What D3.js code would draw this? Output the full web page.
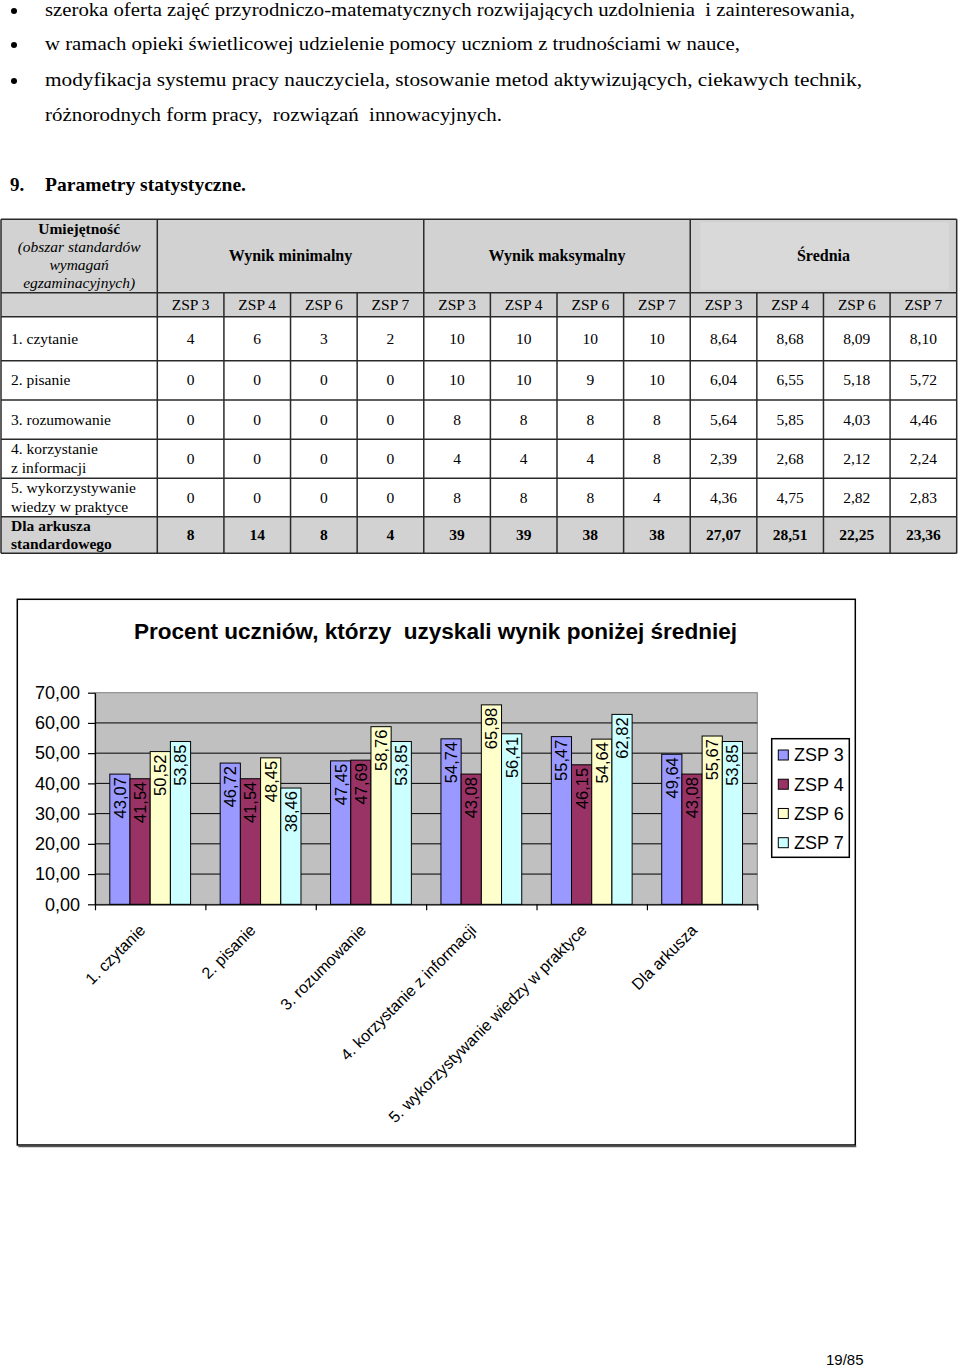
<!DOCTYPE html>
<html>
<head>
<meta charset="utf-8">
<script src="https://cdn.jsdelivr.net/npm/d3@7"></script>
<style>
  html, body { margin: 0; padding: 0; background: #fff; }
  svg { display: block; }
  text { white-space: pre; }
</style>
</head>
<body>
<script>
// ---------------- DATA ----------------
const bulletLines = [
  "szeroka oferta zajęć przyrodniczo-matematycznych rozwijających uzdolnienia  i zainteresowania,",
  "w ramach opieki świetlicowej udzielenie pomocy uczniom z trudnościami w nauce,",
  "modyfikacja systemu pracy nauczyciela, stosowanie metod aktywizujących, ciekawych technik,"
];
const continuationLine = "różnorodnych form pracy,  rozwiązań  innowacyjnych.";
const sectionNumber = "9.";
const sectionTitle = "Parametry statystyczne.";

const headerFirstCell = ["Umiejętność", "(obszar standardów", "wymagań", "egzaminacyjnych)"];
const tableGroups = ["Wynik minimalny", "Wynik maksymalny", "Średnia"];
const schools = ["ZSP 3", "ZSP 4", "ZSP 6", "ZSP 7"];
const rowLabels = [
  ["1. czytanie"],
  ["2. pisanie"],
  ["3. rozumowanie"],
  ["4. korzystanie", "z informacji"],
  ["5. wykorzystywanie", "wiedzy w praktyce"],
  ["Dla arkusza", "standardowego"]
];
const minScores = [[4,6,3,2],[0,0,0,0],[0,0,0,0],[0,0,0,0],[0,0,0,0],[8,14,8,4]];
const maxScores = [[10,10,10,10],[10,10,9,10],[8,8,8,8],[4,4,4,8],[8,8,8,4],[39,39,38,38]];
const meanScores = [[8.64,8.68,8.09,8.10],[6.04,6.55,5.18,5.72],[5.64,5.85,4.03,4.46],
                    [2.39,2.68,2.12,2.24],[4.36,4.75,2.82,2.83],[27.07,28.51,22.25,23.36]];

const chartTitle = "Procent uczniów, którzy  uzyskali wynik poniżej średniej";
const categories = ["1. czytanie", "2. pisanie", "3. rozumowanie", "4. korzystanie z informacji",
                    "5. wykorzystywanie wiedzy w praktyce", "Dla arkusza"];
const seriesNames = ["ZSP 3", "ZSP 4", "ZSP 6", "ZSP 7"];
const zsp3 = [43.07, 46.72, 47.45, 54.74, 55.47, 49.64];
const zsp4 = [41.54, 41.54, 47.69, 43.08, 46.15, 43.08];
const zsp6 = [50.52, 48.45, 58.76, 65.98, 54.64, 55.67];
const zsp7 = [53.85, 38.46, 53.85, 56.41, 62.82, 53.85];
const yTicks = [0, 10, 20, 30, 40, 50, 60, 70];
const pageNumber = "19/85";

// ---------------- SETUP ----------------
const W = 960, H = 1368;
const svg = d3.select("body").append("svg").attr("width", W).attr("height", H);
svg.append("rect").attr("width", W).attr("height", H).attr("fill", "#fff");

const serif = "'Liberation Serif', 'Times New Roman', serif";
const sans = "'Liberation Sans', Arial, sans-serif";
const comma = v => d3.format(".2f")(v).replace(".", ",");

// ---------------- TOP TEXT ----------------
const bulletY = [16, 50, 86];
const bulletWidths = [810, 695, 817];
bulletLines.forEach((t, i) => {
  svg.append("circle").attr("cx", 14).attr("cy", bulletY[i] - 5).attr("r", 3).attr("fill", "#000");
  svg.append("text").attr("x", 45).attr("y", bulletY[i])
    .attr("font-family", serif).attr("font-size", 18.5)
    .attr("textLength", bulletWidths[i]).attr("lengthAdjust", "spacingAndGlyphs")
    .text(t);
});
svg.append("text").attr("x", 45).attr("y", 121)
  .attr("font-family", serif).attr("font-size", 18.5)
  .attr("textLength", 457).attr("lengthAdjust", "spacingAndGlyphs")
  .text(continuationLine);
svg.append("text").attr("x", 10).attr("y", 191)
  .attr("font-family", serif).attr("font-size", 19).attr("font-weight", "bold").text(sectionNumber);
svg.append("text").attr("x", 45).attr("y", 191)
  .attr("font-family", serif).attr("font-size", 19).attr("font-weight", "bold")
  .attr("textLength", 201).attr("lengthAdjust", "spacingAndGlyphs").text(sectionTitle);

// ---------------- TABLE ----------------
const rowY = [219.3, 292.7, 316.7, 360.7, 400, 439.3, 478.3, 516.7, 553.3];
const tLeft = 1, tFirst = 157.3, tRight = 956.7;
const colX = d3.scaleBand().domain(d3.range(12)).range([tFirst, tRight]);
const gray = "#d2d2d2";
const border = "#2a2a2a";
const tg = svg.append("g");

// fills
tg.append("rect").attr("x", tLeft).attr("y", rowY[0]).attr("width", tRight - tLeft)
  .attr("height", rowY[2] - rowY[0]).attr("fill", gray);
tg.append("rect").attr("x", tLeft).attr("y", rowY[7]).attr("width", tRight - tLeft)
  .attr("height", rowY[8] - rowY[7]).attr("fill", gray);
// subtle inner panel in the "Średnia" header cell
tg.append("rect").attr("x", colX(8) + 10).attr("y", rowY[0] + 3)
  .attr("width", colX.bandwidth() * 4 - 18).attr("height", rowY[1] - rowY[0] - 6)
  .attr("fill", "#d9d9d9");

// horizontal lines
rowY.forEach(y => {
  tg.append("line").attr("x1", tLeft).attr("x2", tRight).attr("y1", y).attr("y2", y)
    .attr("stroke", border).attr("stroke-width", 1.5);
});
// vertical lines
[tLeft, tFirst, tRight].forEach(x => {
  tg.append("line").attr("x1", x).attr("x2", x).attr("y1", rowY[0]).attr("y2", rowY[8])
    .attr("stroke", border).attr("stroke-width", 1.5);
});
d3.range(1, 12).forEach(i => {
  const x = colX(i);
  const fromY = (i % 4 === 0) ? rowY[0] : rowY[1];
  tg.append("line").attr("x1", x).attr("x2", x).attr("y1", fromY).attr("y2", rowY[8])
    .attr("stroke", border).attr("stroke-width", 1.5);
});

// header first cell
const hfY = [234, 252, 270, 288];
headerFirstCell.forEach((t, i) => {
  tg.append("text").attr("x", (tLeft + tFirst) / 2).attr("y", hfY[i])
    .attr("text-anchor", "middle").attr("font-family", serif).attr("font-size", 15.5)
    .attr("font-weight", i === 0 ? "bold" : "normal")
    .attr("font-style", i === 0 ? "normal" : "italic")
    .text(t);
});
// group headers
tableGroups.forEach((g, gi) => {
  tg.append("text").attr("x", colX(gi * 4) + colX.bandwidth() * 2).attr("y", 261)
    .attr("text-anchor", "middle").attr("font-family", serif).attr("font-size", 16)
    .attr("font-weight", "bold").text(g);
});
// school headers
d3.range(12).forEach(i => {
  tg.append("text").attr("x", colX(i) + colX.bandwidth() / 2).attr("y", 309.5)
    .attr("text-anchor", "middle").attr("font-family", serif).attr("font-size", 15.5)
    .text(schools[i % 4]);
});
// data rows
rowLabels.forEach((lab, r) => {
  const top = rowY[r + 2], bot = rowY[r + 3];
  const cy = (top + bot) / 2;
  const isLast = r === rowLabels.length - 1;
  const weight = isLast ? "bold" : "normal";
  if (lab.length === 1) {
    tg.append("text").attr("x", 11).attr("y", cy + 5)
      .attr("font-family", serif).attr("font-size", 15.5).attr("font-weight", weight).text(lab[0]);
  } else {
    lab.forEach((t, k) => {
      tg.append("text").attr("x", 11).attr("y", cy - 4.5 + k * 18.5)
        .attr("font-family", serif).attr("font-size", 15.5).attr("font-weight", weight).text(t);
    });
  }
  const vals = [...minScores[r].map(String), ...maxScores[r].map(String), ...meanScores[r].map(comma)];
  vals.forEach((v, c) => {
    tg.append("text").attr("x", colX(c) + colX.bandwidth() / 2).attr("y", cy + 5)
      .attr("text-anchor", "middle").attr("font-family", serif).attr("font-size", 15.5)
      .attr("font-weight", weight).text(v);
  });
});

// ---------------- CHART ----------------
const frame = { x: 17.3, y: 599.3, w: 838, h: 545.7 };
svg.append("rect").attr("x", frame.x).attr("y", frame.y).attr("width", frame.w).attr("height", frame.h)
  .attr("fill", "#fff").attr("stroke", "#000").attr("stroke-width", 1.5);
svg.append("line").attr("x1", frame.x + 1).attr("x2", frame.x + frame.w + 1)
  .attr("y1", frame.y + frame.h + 1.5).attr("y2", frame.y + frame.h + 1.5)
  .attr("stroke", "#555").attr("stroke-width", 1.5);

const plot = { left: 95, right: 757.3, top: 692.7, bottom: 904.3 };

svg.append("text").attr("x", 435.5).attr("y", 639).attr("text-anchor", "middle")
  .attr("font-family", sans).attr("font-size", 22.5).attr("font-weight", "bold")
  .attr("textLength", 603).attr("lengthAdjust", "spacingAndGlyphs").text(chartTitle);

const y = d3.scaleLinear().domain([0, 70]).range([plot.bottom, plot.top]);
const x0 = d3.scaleBand().domain(categories).range([plot.left, plot.right])
  .paddingInner(0.268).paddingOuter(0.134);
const x1 = d3.scaleBand().domain(seriesNames).range([0, x0.bandwidth()]);
const colors = d3.scaleOrdinal().domain(seriesNames).range(["#9999ff", "#993366", "#ffffcc", "#ccffff"]);
const seriesValues = [zsp3, zsp4, zsp6, zsp7];

// plot background
svg.append("rect").attr("x", plot.left).attr("y", plot.top)
  .attr("width", plot.right - plot.left).attr("height", plot.bottom - plot.top)
  .attr("fill", "#c0c0c0").attr("stroke", "#808080").attr("stroke-width", 1);

// gridlines
svg.append("g").selectAll("line").data(yTicks.filter(t => t > 0 && t < 70)).join("line")
  .attr("x1", plot.left).attr("x2", plot.right)
  .attr("y1", d => y(d)).attr("y2", d => y(d))
  .attr("stroke", "#000").attr("stroke-width", 1);

// bars
const cg = svg.append("g").selectAll("g").data(categories).join("g")
  .attr("transform", d => `translate(${x0(d)},0)`);
cg.each(function(cat, ci) {
  const g = d3.select(this);
  const rows = seriesNames.map((s, si) => ({ s, v: seriesValues[si][ci] }));
  g.selectAll("rect").data(rows).join("rect")
    .attr("x", d => x1(d.s)).attr("y", d => y(d.v))
    .attr("width", x1.bandwidth()).attr("height", d => y(0) - y(d.v))
    .attr("fill", d => colors(d.s)).attr("stroke", "#000").attr("stroke-width", 1);
  g.selectAll("text").data(rows).join("text")
    .attr("transform", d => `translate(${x1(d.s) + x1.bandwidth() / 2},${y(d.v) + 3}) rotate(-90)`)
    .attr("text-anchor", "end").attr("dy", "0.36em")
    .attr("font-family", sans).attr("font-size", 16.5).attr("fill", "#000")
    .text(d => comma(d.v));
});

// y axis
const yAxis = svg.append("g").attr("transform", `translate(${plot.left},0)`)
  .call(d3.axisLeft(y).tickValues(yTicks).tickSize(7).tickSizeOuter(0).tickPadding(8).tickFormat(comma));
yAxis.select(".domain").attr("stroke", "#000").attr("stroke-width", 1.2);
yAxis.selectAll(".tick line").attr("stroke", "#000").attr("stroke-width", 1.2);
yAxis.selectAll(".tick text").attr("font-family", sans).attr("font-size", 18).attr("fill", "#000");

// x axis (ticks at category boundaries)
const xb = d3.scaleLinear().domain([0, categories.length]).range([plot.left, plot.right]);
const xAxis = svg.append("g").attr("transform", `translate(0,${plot.bottom})`)
  .call(d3.axisBottom(xb).tickValues(d3.range(categories.length + 1)).tickSize(6).tickSizeOuter(0).tickFormat(""));
xAxis.select(".domain").attr("stroke", "#000").attr("stroke-width", 1.2);
xAxis.selectAll(".tick line").attr("stroke", "#000").attr("stroke-width", 1.2);

// category labels
svg.append("g").selectAll("text").data(categories).join("text")
  .attr("transform", d => `translate(${x0(d) + x0.bandwidth() / 2 - 4},${plot.bottom + 27}) rotate(-45)`)
  .attr("text-anchor", "end").attr("font-family", sans).attr("font-size", 16).attr("fill", "#000")
  .text(d => d);

// legend
const lg = svg.append("g");
lg.append("rect").attr("x", 771.7).attr("y", 738.7).attr("width", 77.6).attr("height", 118.6)
  .attr("fill", "#fff").attr("stroke", "#000").attr("stroke-width", 1.5);
const ly = d3.scalePoint().domain(seriesNames).range([755, 842.7]);
lg.selectAll("rect.sw").data(seriesNames).join("rect").attr("class", "sw")
  .attr("x", 778.3).attr("y", d => ly(d) - 5).attr("width", 10).attr("height", 10)
  .attr("fill", d => colors(d)).attr("stroke", "#000").attr("stroke-width", 1);
lg.selectAll("text").data(seriesNames).join("text")
  .attr("x", 794).attr("y", d => ly(d)).attr("dy", "0.36em")
  .attr("font-family", sans).attr("font-size", 18).attr("fill", "#000").text(d => d);

// page number
svg.append("text").attr("x", 826).attr("y", 1365).attr("font-family", sans).attr("font-size", 15)
  .attr("fill", "#000").text(pageNumber);
</script>
</body>
</html>
